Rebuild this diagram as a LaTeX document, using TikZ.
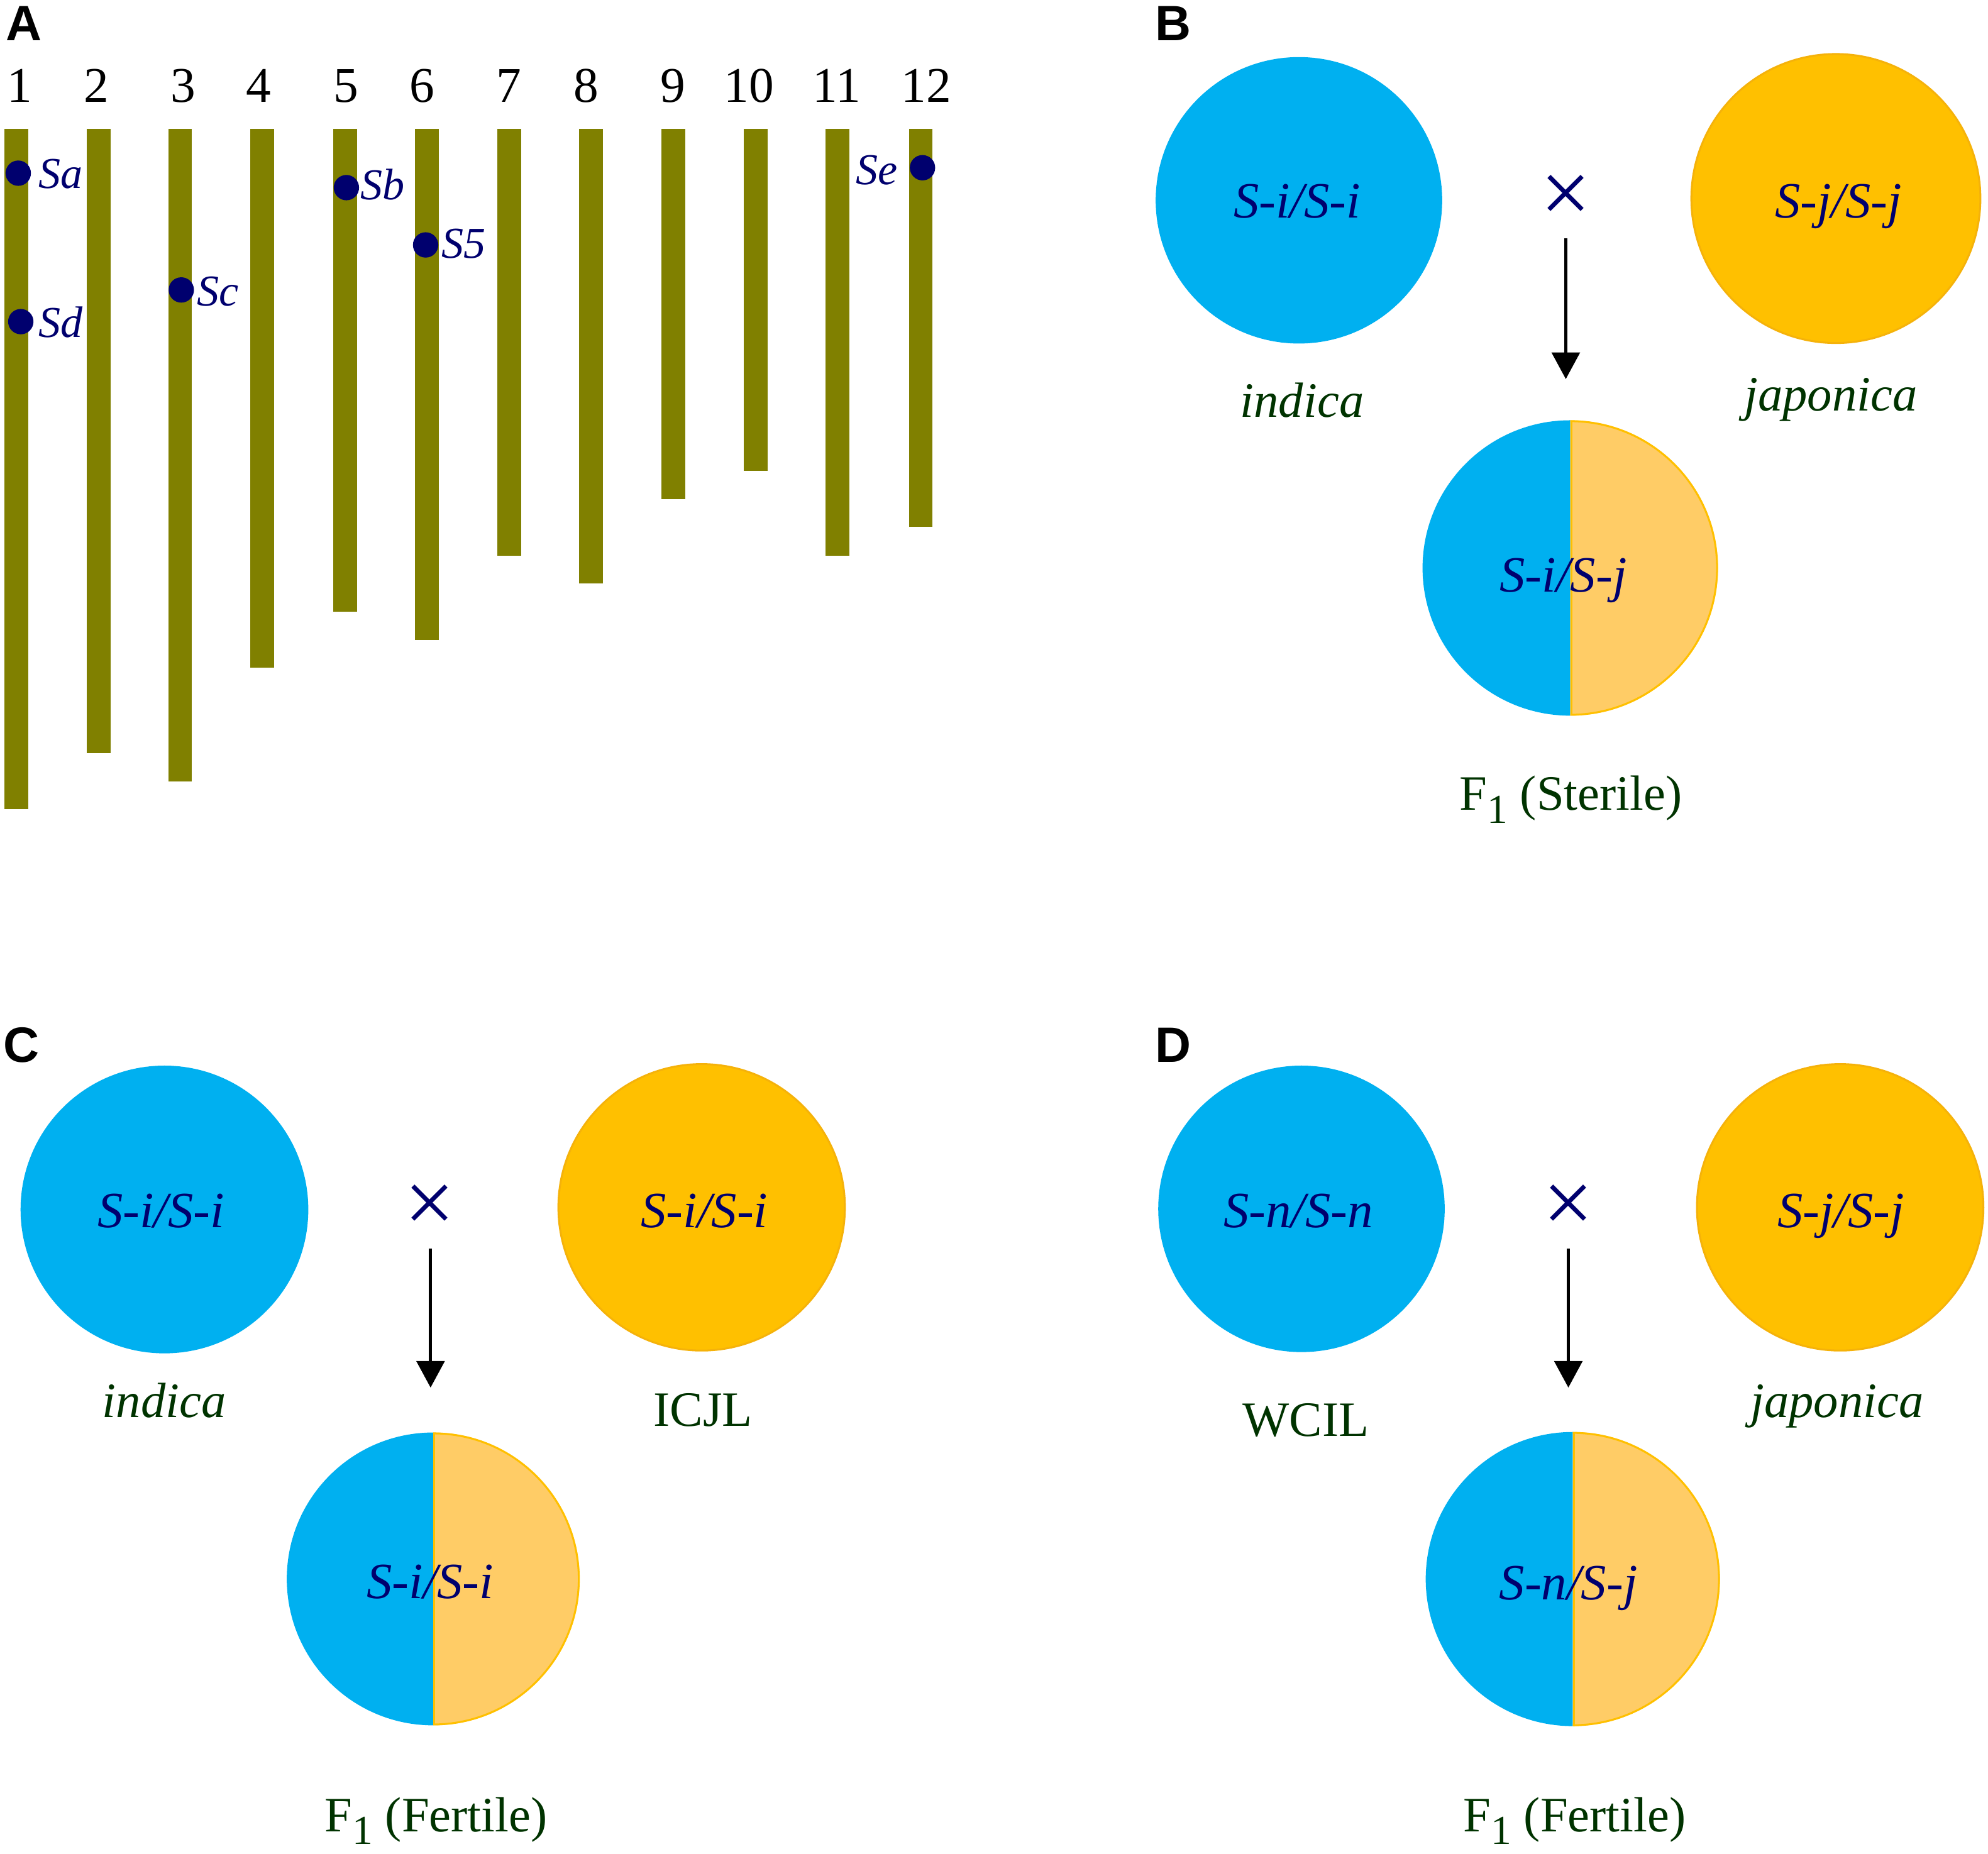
\documentclass[tikz,border=0pt]{standalone}
\usepackage{fontspec}
\setmainfont{Liberation Serif}
\newfontfamily\panelfont{Liberation Sans}
\usetikzlibrary{arrows.meta,calc}
\definecolor{olivebar}{RGB}{128,128,0}
\definecolor{navyc}{RGB}{0,0,110}
\definecolor{cyanc}{RGB}{0,176,240}
\definecolor{orangec}{RGB}{255,192,0}
\definecolor{orangeline}{RGB}{245,178,10}
\definecolor{palec}{RGB}{255,204,102}
\definecolor{greenc}{RGB}{0,51,0}
\begin{document}
\begin{tikzpicture}[x=0.02cm,y=-0.02cm,
  plab/.style={font={\panelfont\bfseries\fontsize{22.3pt}{26pt}\selectfont}, anchor=base west, inner sep=0},
  chrnum/.style={font={\fontsize{22.4pt}{26pt}\selectfont}, anchor=base, inner sep=0, text=black},
  slab/.style={font={\itshape\fontsize{19.8pt}{23pt}\selectfont}, text=navyc, anchor=base west, inner sep=0},
  geno/.style={font={\itshape\fontsize{22.8pt}{26pt}\selectfont}, text=navyc, anchor=base, inner sep=0},
  spec/.style={font={\itshape\fontsize{22.2pt}{26pt}\selectfont}, text=greenc, anchor=base, inner sep=0},
  specup/.style={font={\fontsize{22.2pt}{26pt}\selectfont}, text=greenc, anchor=base, inner sep=0},
  crossx/.style={font={\fontsize{40pt}{44pt}\selectfont}, text=navyc, inner sep=0},
  arr/.style={draw=black, line width=0.05cm, -{Triangle[width=0.44cm,length=0.42cm]}},
  bluecirc/.style={circle, fill=cyanc, inner sep=0, outer sep=0},
  orangecirc/.style={circle, fill=orangec, draw=orangeline, line width=0.03cm, inner sep=0, outer sep=0},
  fonec/.style={circle, inner sep=0, outer sep=0},
  sdot/.style={circle, fill=navyc, minimum size=0.4cm, inner sep=0},
  halfline/.style={draw=orangec, line width=0.03cm}
]
\useasboundingbox (0,0) rectangle (1568,1462);

% ---------------- Panel A ----------------
\node[plab] (labA) at (4.6,32.2) {A};
\foreach \c/\b in {13.05/638.4, 77.8/594.2, 142.05/616.2, 206.8/526.8, 272.1/482.4, 336.7/504.6, 401.5/438.2, 466.25/460.4, 531.15/393.6, 595.9/371.4, 660.65/438.2, 726.2/415.8}
  \fill[olivebar] (\c-9.35,101.5) rectangle (\c+9.35,\b);
\foreach \x/\t [count=\i] in {15.7/1, 75.9/2, 144.7/3, 204/4, 273/5, 333/6, 401.5/7, 462.5/8, 531/9, 590.7/10, 659.8/11, 730.6/12}
  \node[chrnum] (n\i) at (\x,80.6) {\t};

\node[sdot] (dSa) at (14.4,136.6) {};
\node[sdot] (dSd) at (16.4,253.7) {};
\node[sdot] (dSc) at (143,228.7) {};
\node[sdot] (dSb) at (273.2,148) {};
\node[sdot] (dS5) at (335.7,193.2) {};
\node[sdot] (dSe) at (727.6,132.3) {};
\node[slab] (tSa) at (30,148.5) {Sa};
\node[slab] (tSd) at (30,266) {Sd};
\node[slab] (tSc) at (155,241.5) {Sc};
\node[slab] (tSb) at (284,157.5) {Sb};
\node[slab] (tS5) at (348,203.5) {S5};
\node[slab] (tSe) at (675,145.5) {Se};

% ---------------- Panel B ----------------
\node[plab] (labB) at (911,32.2) {B};
\node[bluecirc, minimum size=4.52cm] (Bi) at (1024.5,158) {};
\node[orangecirc, minimum size=4.56cm] (Bj) at (1448,156.6) {};
\node[geno] (gBi) at (1023,172) {S-i/S-i};
\node[geno] (gBj) at (1450,172) {S-j/S-j};
\node[crossx] (xB) at (1235,157) {×};
\coordinate (aBs) at (1235,188);
\coordinate (aBe) at (1235,299);
\draw[arr] (aBs) -- (aBe);
\node[spec] (sBi) at (1027,329) {indica};
\node[spec] (sBj) at (1444,324) {japonica};
\node[fonec, minimum size=4.66cm] (Bf) at (1238.5,448) {};
\begin{scope}
  \clip ($(Bf.center)+(-125,-125)$) rectangle ($(Bf.center)+(0,125)$);
  \fill[cyanc] (Bf.center) circle[radius=116.5];
\end{scope}
\begin{scope}
  \clip ($(Bf.center)+(0,-125)$) rectangle ($(Bf.center)+(125,125)$);
  \fill[palec] (Bf.center) circle[radius=116.5];
  \draw[halfline] (Bf.center) circle[radius=115.8];
\end{scope}
\draw[halfline] ([xshift=0.015cm]Bf.north) -- ([xshift=0.015cm]Bf.south);
\node[geno] (gBf) at (1233,467) {S-i/S-j};
\node[specup] (FB) at (1239,639) {F\raisebox{-0.21cm}{\fontsize{18.5pt}{20pt}\selectfont 1} (Sterile)};

% ---------------- Panel C ----------------
\node[plab] (labC) at (2.6,838) {C};
\node[bluecirc, minimum size=4.54cm] (Ci) at (129.7,954) {};
\node[orangecirc, minimum size=4.52cm] (Cj) at (553.4,952.3) {};
\node[geno] (gCi) at (127,968) {S-i/S-i};
\node[geno] (gCj) at (555.6,968) {S-i/S-i};
\node[crossx] (xC) at (338.7,953.5) {×};
\coordinate (aCs) at (339.6,985);
\coordinate (aCe) at (339.6,1094.5);
\draw[arr] (aCs) -- (aCe);
\node[spec] (sCi) at (129.5,1118) {indica};
\node[specup] (sCj) at (554.5,1125) {ICJL};
\node[fonec, minimum size=4.62cm] (Cf) at (341.7,1245.4) {};
\begin{scope}
  \clip ($(Cf.center)+(-125,-125)$) rectangle ($(Cf.center)+(0,125)$);
  \fill[cyanc] (Cf.center) circle[radius=115.5];
\end{scope}
\begin{scope}
  \clip ($(Cf.center)+(0,-125)$) rectangle ($(Cf.center)+(125,125)$);
  \fill[palec] (Cf.center) circle[radius=115.5];
  \draw[halfline] (Cf.center) circle[radius=114.8];
\end{scope}
\draw[halfline] ([xshift=0.015cm]Cf.north) -- ([xshift=0.015cm]Cf.south);
\node[geno] (gCf) at (339.3,1261) {S-i/S-i};
\node[specup] (FC) at (344,1445) {F\raisebox{-0.19cm}{\fontsize{18.5pt}{20pt}\selectfont 1} (Fertile)};

% ---------------- Panel D ----------------
\node[plab] (labD) at (911,838) {D};
\node[bluecirc, minimum size=4.52cm] (Di) at (1026.5,953.5) {};
\node[orangecirc, minimum size=4.52cm] (Dj) at (1451.4,952.3) {};
\node[geno] (gDi) at (1024,968) {S-n/S-n};
\node[geno] (gDj) at (1452,968) {S-j/S-j};
\node[crossx] (xD) at (1237,953.5) {×};
\coordinate (aDs) at (1237,985);
\coordinate (aDe) at (1237,1094.5);
\draw[arr] (aDs) -- (aDe);
\node[specup] (sDi) at (1030,1133) {WCIL};
\node[spec] (sDj) at (1449,1118) {japonica};
\node[fonec, minimum size=4.64cm] (Df) at (1240.5,1245.5) {};
\begin{scope}
  \clip ($(Df.center)+(-125,-125)$) rectangle ($(Df.center)+(0,125)$);
  \fill[cyanc] (Df.center) circle[radius=116];
\end{scope}
\begin{scope}
  \clip ($(Df.center)+(0,-125)$) rectangle ($(Df.center)+(125,125)$);
  \fill[palec] (Df.center) circle[radius=116];
  \draw[halfline] (Df.center) circle[radius=115.3];
\end{scope}
\draw[halfline] ([xshift=0.015cm]Df.north) -- ([xshift=0.015cm]Df.south);
\node[geno] (gDf) at (1237,1262) {S-n/S-j};
\node[specup] (FD) at (1242,1445) {F\raisebox{-0.19cm}{\fontsize{18.5pt}{20pt}\selectfont 1} (Fertile)};
\end{tikzpicture}
\end{document}
